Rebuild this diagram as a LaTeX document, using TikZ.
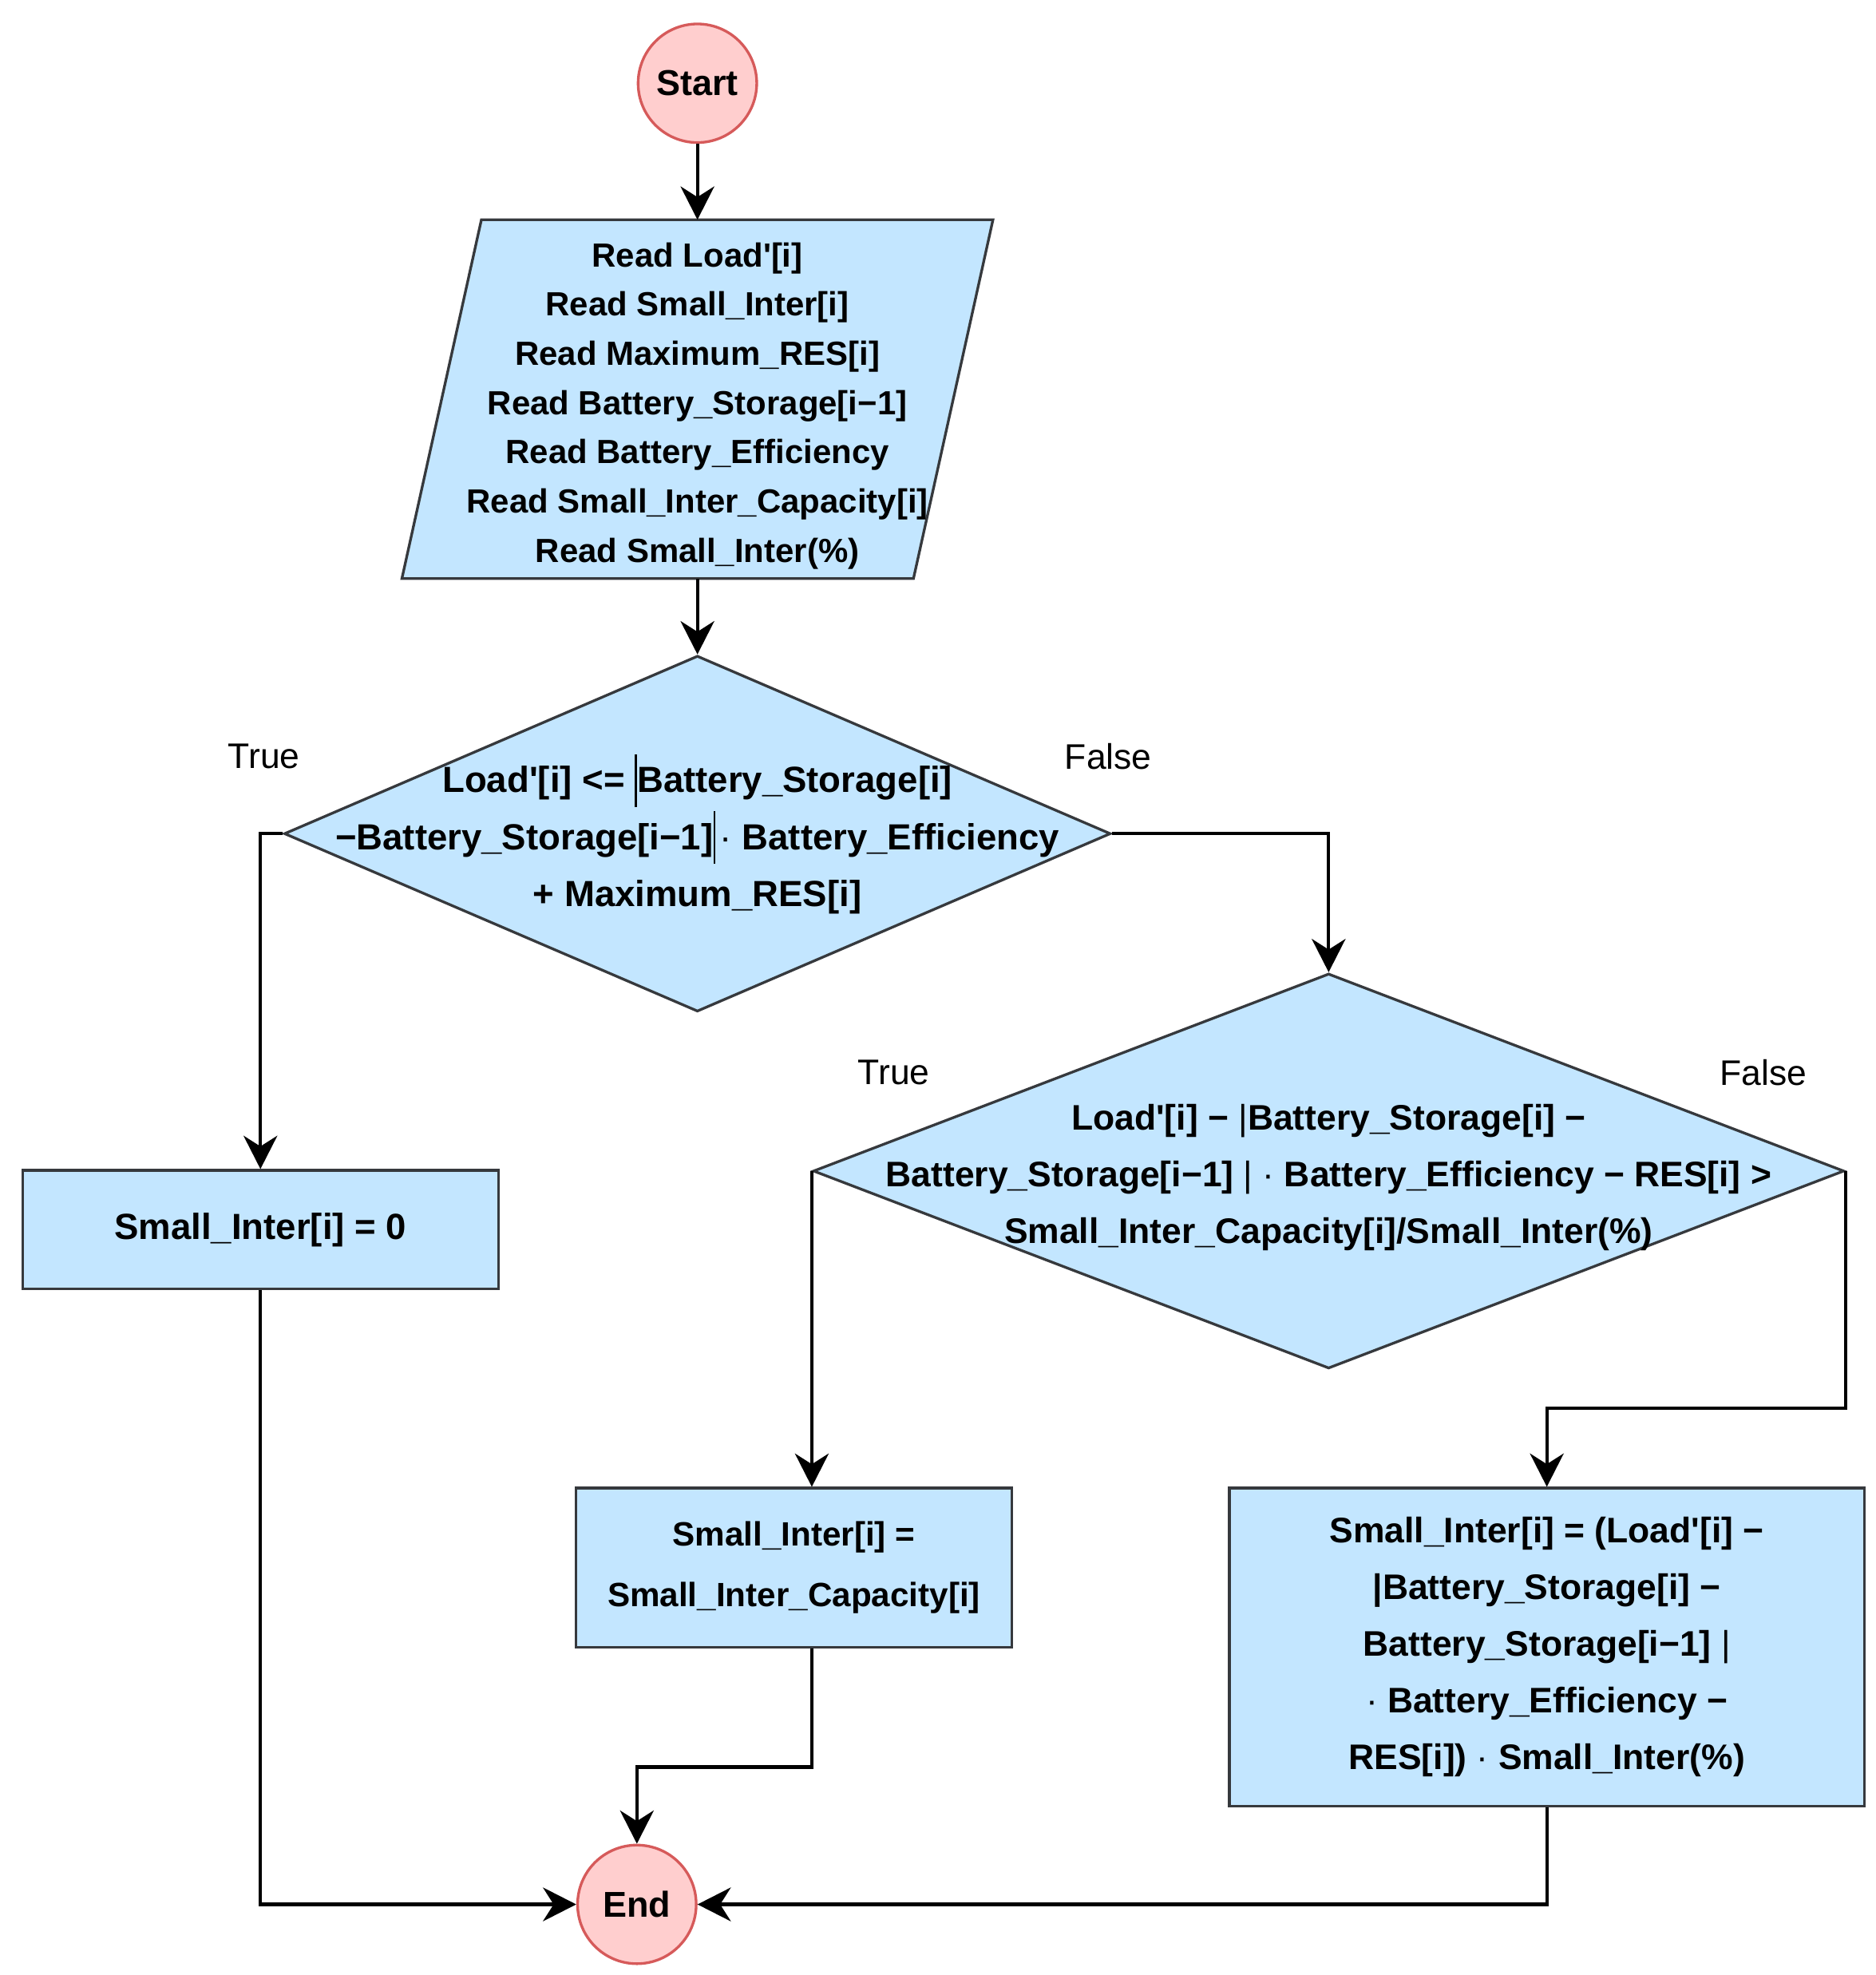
\documentclass[tikz,border=0pt]{standalone}
\usepackage{fontspec}
\setmainfont{Liberation Sans}[Ligatures=TeXOff]
\usetikzlibrary{calc}
\usetikzlibrary{arrows.meta}
\usetikzlibrary{shapes.geometric}
\usetikzlibrary{backgrounds}
\definecolor{boxblue}{RGB}{195,230,255}
\definecolor{boxline}{RGB}{54,57,61}
\definecolor{termfill}{RGB}{255,206,206}
\definecolor{termline}{RGB}{214,90,90}
\newcommand{\tbar}{{\vrule width .5pt height 1.05em depth .4em}}
\newcommand{\floattext}[1]{\makebox[0pt]{\smash{\raisebox{-3pt}{\begin{tabular}{@{}c@{}}#1\end{tabular}}}}}
\newcommand{\lowtext}[1]{\raisebox{-1.2pt}[\height][\depth]{\begin{tabular}{@{}c@{}}#1\end{tabular}}}

\begin{document}
\begin{tikzpicture}[x=.01cm, y=-.01cm,
 term/.style={circle, draw=termline, fill=termfill, line width=.6pt, minimum size=.94cm, inner sep=0pt, font=\fontsize{8.1}{9}\selectfont\bfseries},
 io/.style={rectangle, inner sep=0pt, minimum width=4.04cm, minimum height=2.83cm, font=\fontsize{7.55}{11.1}\selectfont\bfseries},
 iobox/.style={draw=boxline, fill=boxblue, line width=.6pt},
 test/.style={diamond, draw=boxline, fill=boxblue, line width=.6pt, inner sep=0pt, font=\fontsize{8}{12.8}\selectfont\bfseries},
 proc/.style={rectangle, draw=boxline, fill=boxblue, line width=.6pt, align=center, inner sep=0pt, font=\fontsize{8}{12.8}\selectfont\bfseries},
 lbl/.style={inner sep=0pt, font=\fontsize{8}{9}\selectfont},
 flow/.style={black, line width=.75pt, -{Stealth[length=7.5pt, width=7.6pt, inset=2.4pt]}}]
\useasboundingbox (0,0) rectangle (1487,1566);
\node[term] (start) at (553,66) {Start};
\node[io] (read) at (553,316.5) {\lowtext{Read Load'[i]\\ Read Small\_Inter[i]\\ Read Maximum\_RES[i]\\ Read Battery\_Storage[i−1]\\ Read Battery\_Efficiency\\ Read Small\_Inter\_Capacity[i]\\ Read Small\_Inter(\%)}};
\begin{scope}[on background layer]
\draw[iobox] ([xshift=-.315cm]read.south west) -- ([xshift=.315cm]read.north west) -- ([xshift=.315cm]read.north east) -- ([xshift=-.315cm]read.south east) -- cycle;
\end{scope}
\node[test, minimum width=6.55cm, minimum height=2.82cm, font=\fontsize{8.2}{12.8}\selectfont\bfseries] (test1) at (553,661) {\floattext{Load'[i] <= \tbar Battery\_Storage[i]\\ −Battery\_Storage[i−1]\tbar{}\kern1pt{\mdseries·} Battery\_Efficiency\\ + Maximum\_RES[i]}};
\node[test, minimum width=8.17cm, minimum height=3.13cm] (test2) at (1053.5,928.5) {\floattext{Load'[i] − {\mdseries|}Battery\_Storage[i] −\\ Battery\_Storage[i−1] {\mdseries|} {\mdseries·} Battery\_Efficiency − RES[i] >\\ Small\_Inter\_Capacity[i]/Small\_Inter(\%)}};
\node[proc, minimum width=3.77cm, minimum height=.94cm, font=\fontsize{8.2}{12.8}\selectfont\bfseries] (zero) at (206.5,975) {Small\_Inter[i] = 0};
\node[proc, minimum width=3.45cm, minimum height=1.26cm, font=\fontsize{7.6}{13.6}\selectfont\bfseries] (cap) at (629.5,1243) {Small\_Inter[i] =\\ Small\_Inter\_Capacity[i]};
\node[proc, minimum width=5.03cm, minimum height=2.52cm] (share) at (1226.5,1306) {Small\_Inter[i] = (Load'[i] −\\ |Battery\_Storage[i] −\\ Battery\_Storage[i−1] {\mdseries|}\\ {\mdseries·} Battery\_Efficiency −\\ RES[i]) {\mdseries·} Small\_Inter(\%)};
\node[term] (stop) at (505,1510) {End};
\node[lbl] (true1) at ($(test1.west)+(-15,-61)$) {True};
\node[lbl] (false1) at ($(test1.east)+(-3,-61)$) {False};
\node[lbl] (true2) at ($(test2.west)+(65,-78)$) {True};
\node[lbl] (false2) at ($(test2.east)+(-65,-78)$) {False};
\draw[flow] (start.south) -- (read.north);
\draw[flow] (read.south) -- (test1.north);
\draw[flow] (test1.west) -| (zero.north);
\draw[flow] (test1.east) -| (test2.north);
\draw[flow] (zero.south) |- (stop.west);
\draw[flow] (test2.west) -- (test2.west |- cap.north);
\draw[flow] (test2.east) -- ++(0,188) -| (share.north);
\draw[flow] (test2.west |- cap.south) -- ++(0,94) -| (stop.north);
\draw[flow] (share.south) |- (stop.east);
\end{tikzpicture}
\end{document}
